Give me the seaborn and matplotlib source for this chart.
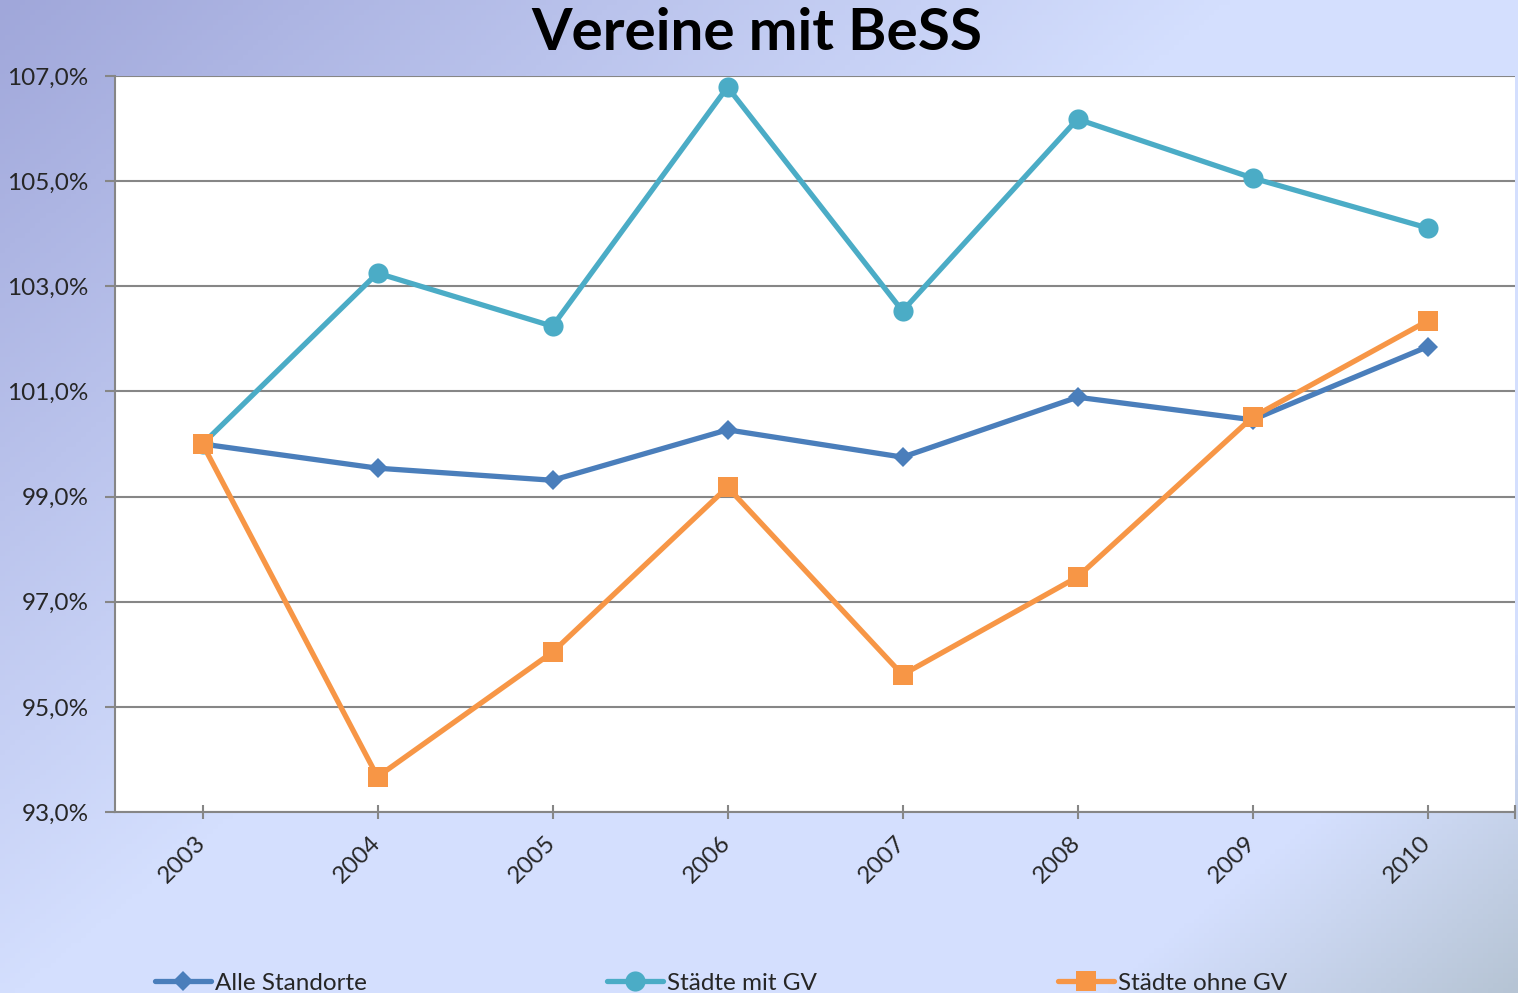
import numpy as np
import pandas as pd
import matplotlib
matplotlib.use("Agg")
import matplotlib.pyplot as plt
import seaborn as sns
from matplotlib.ticker import FuncFormatter, FixedLocator
from matplotlib.lines import Line2D

sns.set_style("white")
plt.rcParams['font.family'] = ['Lato', 'DejaVu Sans']

years = [2003, 2004, 2005, 2006, 2007, 2008, 2009, 2010]
alle_standorte = [100.0, 99.54, 99.31, 100.27, 99.75, 100.89, 100.46, 101.85]
staedte_mit_gv = [100.0, 103.25, 102.24, 106.79, 102.53, 106.18, 105.06, 104.11]
staedte_ohne_gv = [100.0, 93.67, 96.04, 99.18, 95.61, 97.47, 100.51, 102.34]
series_names = ["Alle Standorte", "Städte mit GV", "Städte ohne GV"]
title = "Vereine mit BeSS"
yticks = [93, 95, 97, 99, 101, 103, 105, 107]

colors = ["#4a7ebb", "#4bacc6", "#f79646"]
markers = ["D", "o", "s"]
msizes = [10.5, 14.5, 14]
lw = 3.8

W, H = 1518, 993
fig = plt.figure(figsize=(W / 100, H / 100), dpi=100)

# background gradient
bg = fig.add_axes([0, 0, 1, 1], zorder=-10)
xx, yy = np.meshgrid(np.linspace(0, 1, 300), np.linspace(0, 1, 200))
t = (xx * 1.0 + yy * 0.8) / 1.8
c0 = np.array([160, 167, 218]) / 255
c1 = np.array([212, 223, 254]) / 255
c2 = np.array([182, 196, 212]) / 255
img = np.zeros(t.shape + (3,))
for k in range(3):
    img[..., k] = np.interp(t, [0, 0.45, 0.85, 1.0], [c0[k], c1[k], c1[k], c2[k]])
bg.imshow(img, aspect="auto", extent=[0, 1, 1, 0])
bg.set_axis_off()

ax = fig.add_axes([115 / W, 1 - 812 / H, 1400 / W, 736 / H])
ax.set_facecolor("white")

df = pd.DataFrame({"year": years * 3,
                   "value": alle_standorte + staedte_mit_gv + staedte_ohne_gv,
                   "series": sum([[n] * len(years) for n in series_names], [])})

for i, name in enumerate(series_names):
    sns.lineplot(data=df[df["series"] == name], x="year", y="value", ax=ax,
                 color=colors[i], marker=markers[i], markersize=msizes[i],
                 markeredgewidth=0, linewidth=lw, label=name, legend=False,
                 zorder=3 + i)

ax.set_xlim(2002.5, 2010.5)
ax.set_ylim(93, 107)
ax.set_yticks(yticks)
ax.yaxis.set_major_formatter(FuncFormatter(lambda v, p: f"{v:.1f}%".replace(".", ",")))
ax.set_xticks(years)
ax.set_xticklabels([str(y) for y in years], rotation=45, ha="right",
                   rotation_mode="anchor", va="center")
ax.xaxis.set_minor_locator(FixedLocator([2010.5]))
ax.grid(axis="y", color="#868686", linewidth=1.5, zorder=1)
ax.set_axisbelow(True)
for s in ["top", "right"]:
    ax.spines[s].set_visible(False)
for s in ["left", "bottom"]:
    ax.spines[s].set_color("#868686")
    ax.spines[s].set_linewidth(1.5)
ax.tick_params(axis="y", direction="out", length=7, width=1.5, color="#868686",
               labelsize=17.5, pad=12, left=True)
ax.tick_params(axis="x", which="both", direction="inout", length=10, width=1.5,
               color="#868686", labelsize=17.5, pad=15, bottom=True)
ax.set_xlabel("")
ax.set_ylabel("")

fig.text(757 / W, 1 - 33 / H, title, ha="center", va="center",
         fontsize=42, fontweight="bold", color="black")

# legend entries
xs = [155, 607, 1058]
for i, name in enumerate(series_names):
    h = Line2D([], [], color=colors[i], marker=markers[i], markersize=msizes[i],
               markeredgewidth=0, linewidth=lw)
    fig.legend([h], [name], loc="center left",
               bbox_to_anchor=(xs[i] / W, 1 - 983 / H), frameon=False,
               fontsize=17.5, handlelength=2.3, handletextpad=0.15,
               borderpad=0, borderaxespad=0)

fig.savefig("out.png", dpi=100)
